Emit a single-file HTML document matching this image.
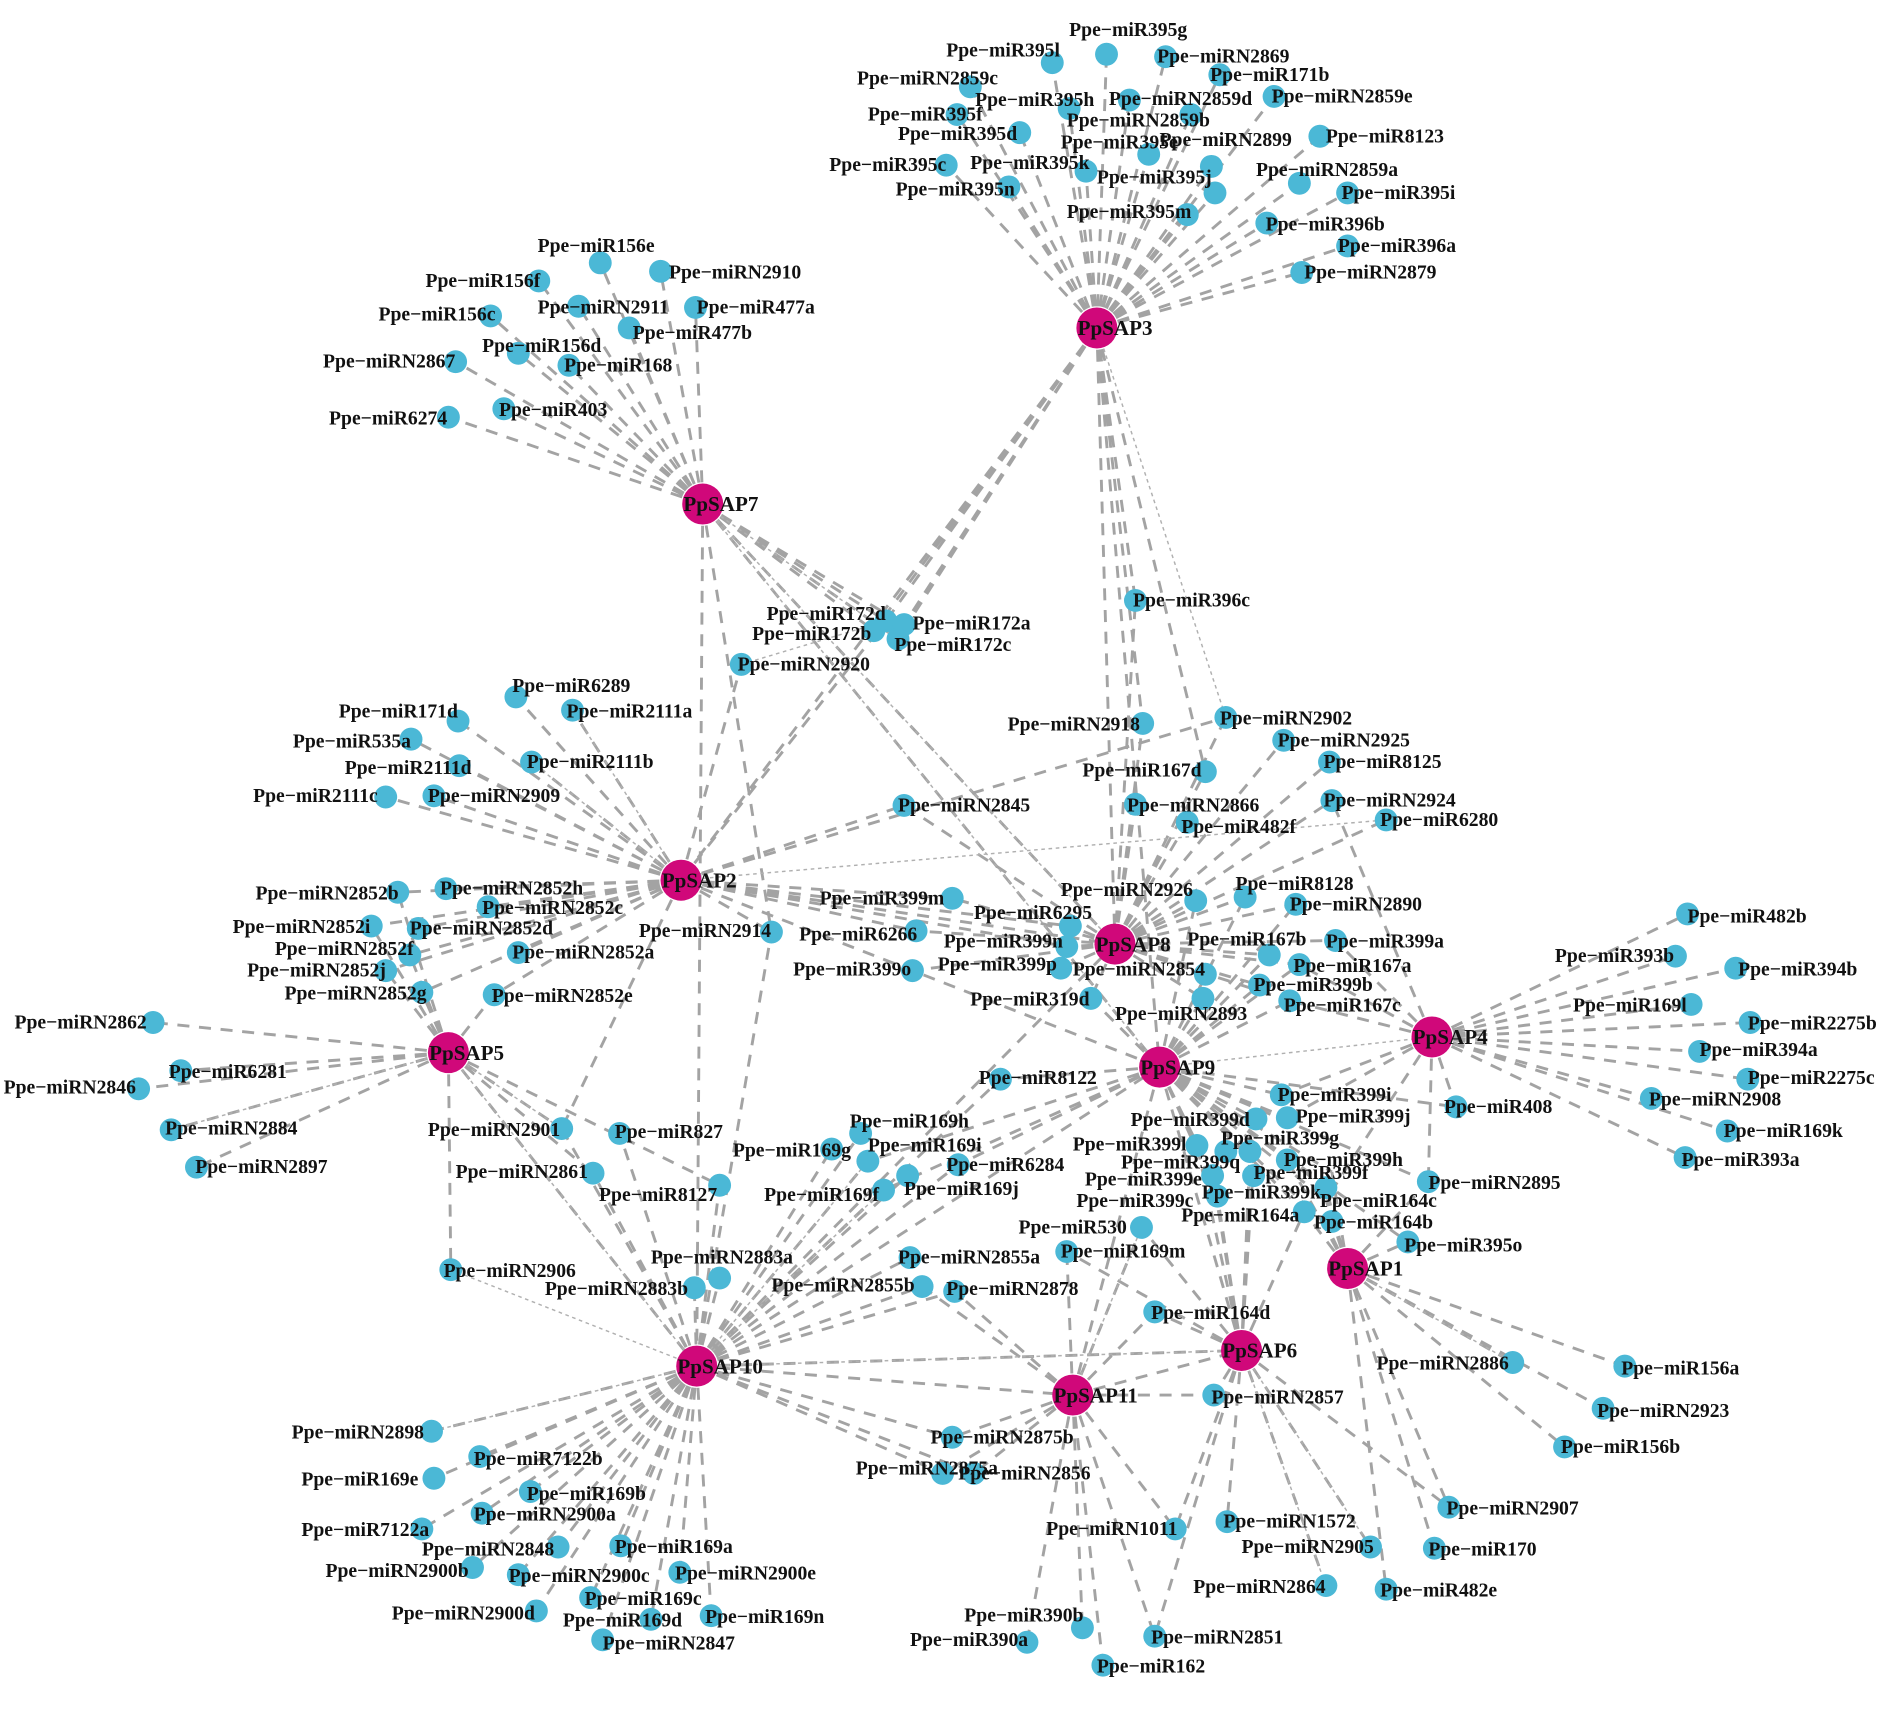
<!DOCTYPE html>
<html><head><meta charset="utf-8"><style>
html,body{margin:0;padding:0;background:#fff;width:1890px;height:1717px;overflow:hidden}
svg{display:block}
text{font-family:"Liberation Serif",serif;font-weight:bold;font-size:16.3px;fill:#111}
.s text{font-size:17.5px}
</style></head><body>
<svg width="1890" height="1717" viewBox="0 0 1568 1424" preserveAspectRatio="none" xmlns="http://www.w3.org/2000/svg">
<g fill="none" stroke="#a3a3a3" stroke-width="2.4" stroke-dasharray="10 8">
<path d="M910 272L918 45M910 272L873 52M910 272L967 47M910 272L805 72M910 272L1012 62M910 272L887 90M910 272L937 83M910 272L1057 80M910 272L794 95M910 272L988 95M910 272L846 110M910 272L953 128M910 272L1005 138M910 272L1095 113M910 272L785 137M910 272L901 142M910 272L1008 160M910 272L1078 152M910 272L837 155M910 272L1118 160M910 272L985 178M910 272L1051 185M910 272L1118 204M910 272L1080 226M910 272L942 498M910 272L735 515M910 272L750 518M910 272L745 530M910 272L725 523M910 272L565 730M910 272L948 600M910 272L925 783M910 272L962 885M910 272L1000 640"/>
<path d="M583 418L498 218M583 418L548 225M583 418L447 233M583 418L480 254M583 418L577 255M583 418L407 262M583 418L522 272M583 418L430 293M583 418L378 300M583 418L472 303M583 418L418 339M583 418L372 346M583 418L735 515M583 418L750 518M583 418L745 530M583 418L725 523M583 418L640 773M583 418L578 1133M583 418L925 783M583 418L962 885"/>
<path d="M565 730L428 578M565 730L380 598M565 730L475 589M565 730L341 613M565 730L441 632M565 730L381 635M565 730L320 661M565 730L360 660M565 730L750 668M565 730L330 740M565 730L370 737M565 730L405 752M565 730L308 768M565 730L347 770M565 730L640 773M565 730L340 792M565 730L430 790M565 730L320 805M565 730L350 823M565 730L410 825M565 730L790 745M565 730L760 772M565 730L888 768M565 730L885 785M565 730L615 551M565 730L735 515M565 730L466 936M565 730L1017 595M565 730L925 783M565 730L962 885"/>
<path d="M372 873L127 848M372 873L150 888M372 873L115 903M372 873L142 937M372 873L163 968M372 873L374 1053M372 873L466 936M372 873L492 973M372 873L597 983M372 873L330 740M372 873L308 768M372 873L340 792M372 873L320 805M372 873L350 823M372 873L410 825M372 873L578 1133"/>
<path d="M578 1133L358 1187M578 1133L398 1208M578 1133L360 1226M578 1133L440 1237M578 1133L400 1255M578 1133L350 1268M578 1133L463 1283M578 1133L515 1282M578 1133L392 1300M578 1133L430 1306M578 1133L564 1304M578 1133L490 1325M578 1133L445 1336M578 1133L540 1343M578 1133L590 1340M578 1133L500 1360M578 1133L597 1060M578 1133L576 1068M578 1133L597 983M578 1133L514 940M578 1133L466 936M578 1133L492 973M578 1133L690 953M578 1133L714 940M578 1133L720 963M578 1133L733 987M578 1133L753 975M578 1133L795 966M578 1133L830 895M578 1133L755 1043M578 1133L765 1067M578 1133L792 1071M578 1133L790 1192M578 1133L782 1222M578 1133L808 1222M578 1133L925 783M578 1133L962 885M578 1133L890 1157M578 1133L1030 1120M578 1133L640 773"/>
<path d="M890 1157L790 1192M890 1157L782 1222M890 1157L808 1222M890 1157L975 1268M890 1157L898 1350M890 1157L852 1362M890 1157L915 1381M890 1157L958 1357M890 1157L885 1038M890 1157L947 1018M890 1157L958 1088M890 1157L1007 1157M890 1157L1030 1120M890 1157L962 885M890 1157L765 1067M890 1157L792 1071"/>
<path d="M1030 1120L1018 1262M1030 1120L1137 1283M1030 1120L1100 1315M1030 1120L1007 1157M1030 1120L958 1088M1030 1120L885 1038M1030 1120L947 1018M1030 1120L1040 964M1030 1120L1037 955M1030 1120L1006 975M1030 1120L1010 992M1030 1120L1082 1005M1030 1120L993 950M1030 1120L962 885M1030 1120L975 1268M1030 1120L958 1357M1030 1120L1202 1250"/>
<path d="M1118 1052L1255 1130M1118 1052L1348 1133M1118 1052L1330 1168M1118 1052L1298 1200M1118 1052L1202 1250M1118 1052L1190 1284M1118 1052L1150 1318M1118 1052L1168 1030M1118 1052L1100 995M1118 1052L1100 1015M1118 1052L1082 1005M1118 1052L1185 980M1118 1052L1105 972M1118 1052L1100 985M1118 1052L1068 962"/>
<path d="M962 885L1063 908M962 885L1042 928M962 885L1068 927M962 885L993 950M962 885L1037 955M962 885L1068 962M962 885L1040 964M962 885L1006 975M962 885L1105 972M962 885L1010 992M962 885L1100 985M962 885L1100 995M962 885L1082 1005M962 885L1100 1015M962 885L1208 918M962 885L830 895M962 885L905 828M962 885L998 828M962 885L1053 792M962 885L1078 800M962 885L1070 830M962 885L992 747M962 885L1033 744M962 885L1075 750M962 885L1045 817M962 885L720 963M962 885L733 987M962 885L795 966M962 885L1168 1030M962 885L1185 980"/>
<path d="M925 783L942 498M925 783L948 600M925 783L1000 640M925 783L942 667M925 783L1017 595M925 783L1065 614M925 783L1103 632M925 783L1105 664M925 783L985 682M925 783L1150 680M925 783L992 747M925 783L1033 744M925 783L1075 750M925 783L1108 780M925 783L1053 792M925 783L1078 800M925 783L1070 830M925 783L1045 817M925 783L1000 808M925 783L998 828M925 783L905 828M925 783L790 745M925 783L888 768M925 783L885 785M925 783L880 803M925 783L757 805M925 783L760 772M925 783L750 668"/>
<path d="M1188 860L1400 758M1188 860L1390 793M1188 860L1440 803M1188 860L1403 833M1188 860L1452 848M1188 860L1410 872M1188 860L1450 895M1188 860L1370 911M1188 860L1433 938M1188 860L1398 960M1188 860L1108 780M1188 860L1063 908M1188 860L1068 927M1188 860L1208 918M1188 860L1185 980M1188 860L1070 830M1188 860L1078 800M1188 860L1105 664M1188 860L1100 995"/>
</g>
<g fill="none" stroke="#b0b0b0" stroke-width="1.2" stroke-dasharray="3 3">
<path d="M583 418L925 783M565 730L1150 680M372 873L578 1133M578 1133L374 1053M578 1133L358 1187M578 1133L720 963M578 1133L733 987M578 1133L1030 1120M372 873L142 937M372 873L466 936M565 730L475 589M565 730L441 632M910 272L1017 595M1118 1052L1255 1130M1030 1120L1137 1283M1030 1120L1100 1315M962 885L1188 860M890 1157L947 1018M583 418L745 530M583 418L962 885M615 551L735 515"/>
</g>
<g fill="#4bb8d6">
<circle cx="918" cy="45" r="9.5"/><circle cx="873" cy="52" r="9.5"/><circle cx="967" cy="47" r="9.5"/><circle cx="805" cy="72" r="9.5"/><circle cx="1012" cy="62" r="9.5"/><circle cx="887" cy="90" r="9.5"/><circle cx="937" cy="83" r="9.5"/><circle cx="1057" cy="80" r="9.5"/><circle cx="794" cy="95" r="9.5"/><circle cx="988" cy="95" r="9.5"/><circle cx="846" cy="110" r="9.5"/><circle cx="953" cy="128" r="9.5"/><circle cx="1005" cy="138" r="9.5"/><circle cx="1095" cy="113" r="9.5"/><circle cx="785" cy="137" r="9.5"/><circle cx="901" cy="142" r="9.5"/><circle cx="1008" cy="160" r="9.5"/><circle cx="1078" cy="152" r="9.5"/><circle cx="837" cy="155" r="9.5"/><circle cx="1118" cy="160" r="9.5"/><circle cx="985" cy="178" r="9.5"/><circle cx="1051" cy="185" r="9.5"/><circle cx="1118" cy="204" r="9.5"/><circle cx="1080" cy="226" r="9.5"/>
<circle cx="498" cy="218" r="9.5"/><circle cx="548" cy="225" r="9.5"/><circle cx="447" cy="233" r="9.5"/><circle cx="480" cy="254" r="9.5"/><circle cx="577" cy="255" r="9.5"/><circle cx="407" cy="262" r="9.5"/><circle cx="522" cy="272" r="9.5"/><circle cx="430" cy="293" r="9.5"/><circle cx="378" cy="300" r="9.5"/><circle cx="472" cy="303" r="9.5"/><circle cx="418" cy="339" r="9.5"/><circle cx="372" cy="346" r="9.5"/>
<circle cx="735" cy="515" r="9.5"/><circle cx="725" cy="523" r="9.5"/><circle cx="750" cy="518" r="9.5"/><circle cx="745" cy="530" r="9.5"/><circle cx="615" cy="551" r="9.5"/><circle cx="942" cy="498" r="9.5"/><circle cx="948" cy="600" r="9.5"/>
<circle cx="428" cy="578" r="9.5"/><circle cx="380" cy="598" r="9.5"/><circle cx="475" cy="589" r="9.5"/><circle cx="341" cy="613" r="9.5"/><circle cx="441" cy="632" r="9.5"/><circle cx="381" cy="635" r="9.5"/><circle cx="320" cy="661" r="9.5"/><circle cx="360" cy="660" r="9.5"/><circle cx="750" cy="668" r="9.5"/><circle cx="330" cy="740" r="9.5"/><circle cx="370" cy="737" r="9.5"/><circle cx="405" cy="752" r="9.5"/><circle cx="308" cy="768" r="9.5"/><circle cx="347" cy="770" r="9.5"/><circle cx="640" cy="773" r="9.5"/><circle cx="340" cy="792" r="9.5"/><circle cx="430" cy="790" r="9.5"/><circle cx="320" cy="805" r="9.5"/><circle cx="350" cy="823" r="9.5"/><circle cx="410" cy="825" r="9.5"/>
<circle cx="127" cy="848" r="9.5"/><circle cx="150" cy="888" r="9.5"/><circle cx="115" cy="903" r="9.5"/><circle cx="142" cy="937" r="9.5"/><circle cx="163" cy="968" r="9.5"/><circle cx="466" cy="936" r="9.5"/><circle cx="492" cy="973" r="9.5"/><circle cx="374" cy="1053" r="9.5"/>
<circle cx="514" cy="940" r="9.5"/><circle cx="597" cy="983" r="9.5"/><circle cx="597" cy="1060" r="9.5"/><circle cx="576" cy="1068" r="9.5"/><circle cx="714" cy="940" r="9.5"/><circle cx="690" cy="953" r="9.5"/><circle cx="720" cy="963" r="9.5"/><circle cx="733" cy="987" r="9.5"/><circle cx="753" cy="975" r="9.5"/><circle cx="795" cy="966" r="9.5"/><circle cx="830" cy="895" r="9.5"/><circle cx="755" cy="1043" r="9.5"/><circle cx="765" cy="1067" r="9.5"/><circle cx="792" cy="1071" r="9.5"/><circle cx="947" cy="1018" r="9.5"/><circle cx="885" cy="1038" r="9.5"/>
<circle cx="1017" cy="595" r="9.5"/><circle cx="1065" cy="614" r="9.5"/><circle cx="1103" cy="632" r="9.5"/><circle cx="1000" cy="640" r="9.5"/><circle cx="942" cy="667" r="9.5"/><circle cx="1105" cy="664" r="9.5"/><circle cx="985" cy="682" r="9.5"/><circle cx="1150" cy="680" r="9.5"/><circle cx="992" cy="747" r="9.5"/><circle cx="1033" cy="744" r="9.5"/><circle cx="1075" cy="750" r="9.5"/><circle cx="790" cy="745" r="9.5"/><circle cx="888" cy="768" r="9.5"/><circle cx="760" cy="772" r="9.5"/><circle cx="885" cy="785" r="9.5"/><circle cx="1053" cy="792" r="9.5"/><circle cx="1108" cy="780" r="9.5"/><circle cx="757" cy="805" r="9.5"/><circle cx="880" cy="803" r="9.5"/><circle cx="1000" cy="808" r="9.5"/><circle cx="1078" cy="800" r="9.5"/><circle cx="1045" cy="817" r="9.5"/><circle cx="905" cy="828" r="9.5"/><circle cx="1070" cy="830" r="9.5"/><circle cx="998" cy="828" r="9.5"/>
<circle cx="1063" cy="908" r="9.5"/><circle cx="1042" cy="928" r="9.5"/><circle cx="1068" cy="927" r="9.5"/><circle cx="993" cy="950" r="9.5"/><circle cx="1037" cy="955" r="9.5"/><circle cx="1068" cy="962" r="9.5"/><circle cx="1017" cy="955" r="9.5"/><circle cx="1006" cy="975" r="9.5"/><circle cx="1040" cy="975" r="9.5"/><circle cx="1010" cy="992" r="9.5"/><circle cx="1100" cy="985" r="9.5"/><circle cx="1082" cy="1005" r="9.5"/><circle cx="1105" cy="1013" r="9.5"/><circle cx="1185" cy="980" r="9.5"/><circle cx="1168" cy="1030" r="9.5"/><circle cx="1208" cy="918" r="9.5"/>
<circle cx="1400" cy="758" r="9.5"/><circle cx="1390" cy="793" r="9.5"/><circle cx="1440" cy="803" r="9.5"/><circle cx="1403" cy="833" r="9.5"/><circle cx="1452" cy="848" r="9.5"/><circle cx="1410" cy="872" r="9.5"/><circle cx="1450" cy="895" r="9.5"/><circle cx="1370" cy="911" r="9.5"/><circle cx="1433" cy="938" r="9.5"/><circle cx="1398" cy="960" r="9.5"/>
<circle cx="958" cy="1088" r="9.5"/><circle cx="1255" cy="1130" r="9.5"/><circle cx="1348" cy="1133" r="9.5"/><circle cx="1330" cy="1168" r="9.5"/><circle cx="1298" cy="1200" r="9.5"/><circle cx="1007" cy="1157" r="9.5"/><circle cx="790" cy="1192" r="9.5"/><circle cx="782" cy="1222" r="9.5"/><circle cx="808" cy="1222" r="9.5"/><circle cx="1202" cy="1250" r="9.5"/><circle cx="975" cy="1268" r="9.5"/><circle cx="1018" cy="1262" r="9.5"/><circle cx="1137" cy="1283" r="9.5"/><circle cx="1190" cy="1284" r="9.5"/><circle cx="1100" cy="1315" r="9.5"/><circle cx="1150" cy="1318" r="9.5"/><circle cx="898" cy="1350" r="9.5"/><circle cx="958" cy="1357" r="9.5"/><circle cx="852" cy="1362" r="9.5"/><circle cx="915" cy="1381" r="9.5"/>
<circle cx="358" cy="1187" r="9.5"/><circle cx="398" cy="1208" r="9.5"/><circle cx="360" cy="1226" r="9.5"/><circle cx="440" cy="1237" r="9.5"/><circle cx="400" cy="1255" r="9.5"/><circle cx="350" cy="1268" r="9.5"/><circle cx="463" cy="1283" r="9.5"/><circle cx="515" cy="1282" r="9.5"/><circle cx="392" cy="1300" r="9.5"/><circle cx="430" cy="1306" r="9.5"/><circle cx="564" cy="1304" r="9.5"/><circle cx="490" cy="1325" r="9.5"/><circle cx="445" cy="1336" r="9.5"/><circle cx="540" cy="1343" r="9.5"/><circle cx="590" cy="1340" r="9.5"/><circle cx="500" cy="1360" r="9.5"/>
</g>
<g fill="#d0087a">
<circle cx="910" cy="272" r="17"/><circle cx="583" cy="418" r="17"/><circle cx="565" cy="730" r="17"/><circle cx="372" cy="873" r="17"/><circle cx="578" cy="1133" r="17"/><circle cx="890" cy="1157" r="17"/><circle cx="1030" cy="1120" r="17"/><circle cx="1118" cy="1052" r="17"/><circle cx="962" cy="885" r="17"/><circle cx="925" cy="783" r="17"/><circle cx="1188" cy="860" r="17"/>
</g>
<g class="s">
<text x="894" y="278">PpSAP3</text><text x="567" y="424">PpSAP7</text><text x="549" y="736">PpSAP2</text><text x="356" y="879">PpSAP5</text><text x="562" y="1139">PpSAP10</text><text x="874" y="1163">PpSAP11</text><text x="1014" y="1126">PpSAP6</text><text x="1102" y="1058">PpSAP1</text><text x="946" y="891">PpSAP9</text><text x="909" y="789">PpSAP8</text><text x="1172" y="866">PpSAP4</text>
</g>
<g>
<text x="887" y="30">Ppe−miR395g</text><text x="785" y="47">Ppe−miR395l</text><text x="960" y="52">Ppe−miRN2869</text><text x="711" y="70">Ppe−miRN2859c</text><text x="1004" y="67">Ppe−miR171b</text><text x="809" y="88">Ppe−miR395h</text><text x="920" y="87">Ppe−miRN2859d</text><text x="1055" y="85">Ppe−miRN2859e</text><text x="720" y="100">Ppe−miR395f</text><text x="885" y="105">Ppe−miRN2859b</text><text x="745" y="116">Ppe−miR395d</text><text x="880" y="123">Ppe−miR395e</text><text x="962" y="121">Ppe−miRN2899</text><text x="1100" y="118">Ppe−miR8123</text><text x="688" y="142">Ppe−miR395c</text><text x="805" y="140">Ppe−miR395k</text><text x="910" y="152">Ppe−miR395j</text><text x="1042" y="146">Ppe−miRN2859a</text><text x="743" y="162">Ppe−miR395n</text><text x="1113" y="165">Ppe−miR395i</text><text x="885" y="181">Ppe−miR395m</text><text x="1050" y="191">Ppe−miR396b</text><text x="1110" y="209">Ppe−miR396a</text><text x="1082" y="231">Ppe−miRN2879</text>
<text x="446" y="209">Ppe−miR156e</text><text x="555" y="231">Ppe−miRN2910</text><text x="353" y="238">Ppe−miR156f</text><text x="446" y="260">Ppe−miRN2911</text><text x="578" y="260">Ppe−miR477a</text><text x="314" y="266">Ppe−miR156c</text><text x="525" y="281">Ppe−miR477b</text><text x="400" y="292">Ppe−miR156d</text><text x="268" y="305">Ppe−miRN2867</text><text x="468" y="308">Ppe−miR168</text><text x="414" y="345">Ppe−miR403</text><text x="273" y="352">Ppe−miR6274</text>
<text x="636" y="514">Ppe−miR172d</text><text x="624" y="531">Ppe−miR172b</text><text x="757" y="522">Ppe−miR172a</text><text x="742" y="540">Ppe−miR172c</text><text x="612" y="556">Ppe−miRN2920</text><text x="940" y="503">Ppe−miR396c</text><text x="836" y="606">Ppe−miRN2918</text>
<text x="425" y="574">Ppe−miR6289</text><text x="281" y="595">Ppe−miR171d</text><text x="470" y="595">Ppe−miR2111a</text><text x="243" y="620">Ppe−miR535a</text><text x="437" y="637">Ppe−miR2111b</text><text x="286" y="642">Ppe−miR2111d</text><text x="210" y="665">Ppe−miR2111c</text><text x="355" y="665">Ppe−miRN2909</text><text x="745" y="673">Ppe−miRN2845</text><text x="212" y="746">Ppe−miRN2852b</text><text x="365" y="742">Ppe−miRN2852h</text><text x="400" y="758">Ppe−miRN2852c</text><text x="193" y="774">Ppe−miRN2852i</text><text x="340" y="775">Ppe−miRN2852d</text><text x="530" y="777">Ppe−miRN2914</text><text x="228" y="792">Ppe−miRN2852f</text><text x="425" y="795">Ppe−miRN2852a</text><text x="205" y="810">Ppe−miRN2852j</text><text x="236" y="829">Ppe−miRN2852g</text><text x="408" y="831">Ppe−miRN2852e</text>
<text x="12" y="853">Ppe−miRN2862</text><text x="140" y="894">Ppe−miR6281</text><text x="3" y="907">Ppe−miRN2846</text><text x="137" y="941">Ppe−miRN2884</text><text x="162" y="973">Ppe−miRN2897</text><text x="355" y="942">Ppe−miRN2901</text><text x="378" y="977">Ppe−miRN2861</text><text x="368" y="1059">Ppe−miRN2906</text>
<text x="510" y="944">Ppe−miR827</text><text x="497" y="996">Ppe−miR8127</text><text x="540" y="1048">Ppe−miRN2883a</text><text x="452" y="1074">Ppe−miRN2883b</text><text x="705" y="935">Ppe−miR169h</text><text x="608" y="959">Ppe−miR169g</text><text x="720" y="955">Ppe−miR169i</text><text x="634" y="996">Ppe−miR169f</text><text x="750" y="991">Ppe−miR169j</text><text x="785" y="971">Ppe−miR6284</text><text x="812" y="899">Ppe−miR8122</text><text x="745" y="1048">Ppe−miRN2855a</text><text x="640" y="1071">Ppe−miRN2855b</text><text x="785" y="1074">Ppe−miRN2878</text><text x="845" y="1023">Ppe−miR530</text><text x="880" y="1043">Ppe−miR169m</text>
<text x="1012" y="601">Ppe−miRN2902</text><text x="1060" y="619">Ppe−miRN2925</text><text x="1098" y="637">Ppe−miR8125</text><text x="898" y="644">Ppe−miR167d</text><text x="935" y="673">Ppe−miRN2866</text><text x="1098" y="669">Ppe−miRN2924</text><text x="980" y="691">Ppe−miR482f</text><text x="1145" y="685">Ppe−miR6280</text><text x="880" y="743">Ppe−miRN2926</text><text x="1025" y="738">Ppe−miR8128</text><text x="1070" y="755">Ppe−miRN2890</text><text x="680" y="750">Ppe−miR399m</text><text x="808" y="762">Ppe−miR6295</text><text x="663" y="780">Ppe−miR6266</text><text x="783" y="786">Ppe−miR399n</text><text x="985" y="784">Ppe−miR167b</text><text x="1100" y="786">Ppe−miR399a</text><text x="658" y="809">Ppe−miR399o</text><text x="778" y="805">Ppe−miR399p</text><text x="890" y="809">Ppe−miRN2854</text><text x="1073" y="806">Ppe−miR167a</text><text x="1040" y="822">Ppe−miR399b</text><text x="805" y="834">Ppe−miR319d</text><text x="1065" y="839">Ppe−miR167c</text><text x="925" y="846">Ppe−miRN2893</text>
<text x="1060" y="913">Ppe−miR399i</text><text x="938" y="934">Ppe−miR399d</text><text x="1075" y="931">Ppe−miR399j</text><text x="890" y="954">Ppe−miR399l</text><text x="1013" y="949">Ppe−miR399g</text><text x="1065" y="967">Ppe−miR399h</text><text x="930" y="969">Ppe−miR399q</text><text x="900" y="983">Ppe−miR399e</text><text x="1040" y="978">Ppe−miR399f</text><text x="893" y="1001">Ppe−miR399c</text><text x="997" y="994">Ppe−miR399k</text><text x="1095" y="1001">Ppe−miR164c</text><text x="980" y="1013">Ppe−miR164a</text><text x="1090" y="1019">Ppe−miR164b</text><text x="1185" y="986">Ppe−miRN2895</text><text x="1165" y="1038">Ppe−miR395o</text><text x="1198" y="923">Ppe−miR408</text>
<text x="1400" y="765">Ppe−miR482b</text><text x="1290" y="798">Ppe−miR393b</text><text x="1442" y="809">Ppe−miR394b</text><text x="1305" y="839">Ppe−miR169l</text><text x="1450" y="854">Ppe−miR2275b</text><text x="1410" y="876">Ppe−miR394a</text><text x="1450" y="899">Ppe−miR2275c</text><text x="1368" y="917">Ppe−miRN2908</text><text x="1430" y="943">Ppe−miR169k</text><text x="1395" y="967">Ppe−miR393a</text>
<text x="955" y="1094">Ppe−miR164d</text><text x="1142" y="1136">Ppe−miRN2886</text><text x="1345" y="1140">Ppe−miR156a</text><text x="1325" y="1175">Ppe−miRN2923</text><text x="1295" y="1205">Ppe−miR156b</text><text x="1005" y="1164">Ppe−miRN2857</text><text x="772" y="1197">Ppe−miRN2875b</text><text x="710" y="1223">Ppe−miRN2875a</text><text x="795" y="1227">Ppe−miRN2856</text><text x="1200" y="1256">Ppe−miRN2907</text><text x="868" y="1273">Ppe−miRN1011</text><text x="1015" y="1267">Ppe−miRN1572</text><text x="1030" y="1288">Ppe−miRN2905</text><text x="1185" y="1290">Ppe−miR170</text><text x="990" y="1321">Ppe−miRN2864</text><text x="1145" y="1324">Ppe−miR482e</text><text x="800" y="1345">Ppe−miR390b</text><text x="955" y="1363">Ppe−miRN2851</text><text x="755" y="1365">Ppe−miR390a</text><text x="910" y="1387">Ppe−miR162</text>
<text x="242" y="1193">Ppe−miRN2898</text><text x="393" y="1215">Ppe−miR7122b</text><text x="250" y="1232">Ppe−miR169e</text><text x="437" y="1244">Ppe−miR169b</text><text x="393" y="1261">Ppe−miRN2900a</text><text x="250" y="1274">Ppe−miR7122a</text><text x="350" y="1290">Ppe−miRN2848</text><text x="510" y="1288">Ppe−miR169a</text><text x="270" y="1308">Ppe−miRN2900b</text><text x="422" y="1312">Ppe−miRN2900c</text><text x="560" y="1310">Ppe−miRN2900e</text><text x="485" y="1331">Ppe−miR169c</text><text x="325" y="1343">Ppe−miRN2900d</text><text x="467" y="1349">Ppe−miR169d</text><text x="585" y="1346">Ppe−miR169n</text><text x="500" y="1368">Ppe−miRN2847</text>
</g>
</svg>
</body></html>
